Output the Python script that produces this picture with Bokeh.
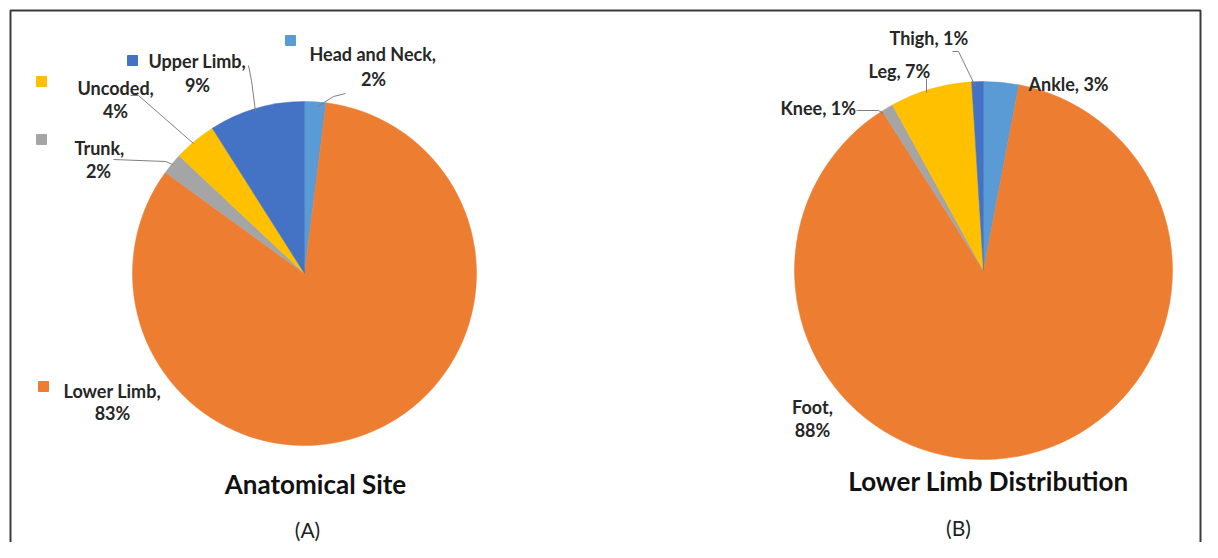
import numpy as np
from bokeh.plotting import figure
from bokeh.models import Range1d
from bokeh.core.properties import value
from bokeh.embed import file_html
from bokeh.resources import INLINE

# ---- data ----
site_labels = ["Head and Neck", "Lower Limb", "Trunk", "Uncoded", "Upper Limb"]
site_values = [2, 83, 2, 4, 9]
site_colors = ["#5B9BD5", "#ED7D31", "#A5A5A5", "#FFC000", "#4472C4"]

limb_labels = ["Ankle", "Foot", "Knee", "Leg", "Thigh"]
limb_values = [3, 88, 1, 7, 1]
limb_colors = ["#5B9BD5", "#ED7D31", "#A5A5A5", "#FFC000", "#4472C4"]

W, H = 1202, 542


def X(x):
    return x


def Y(y):
    return H - y


p = figure(width=W, height=H, output_backend="svg", toolbar_location=None,
           x_range=Range1d(0, W), y_range=Range1d(0, H), min_border=0)
p.axis.visible = False
p.grid.visible = False
p.outline_line_color = None
p.background_fill_color = "white"

FONT = value("Lato")
LABEL_C = "#262626"
LBL_SIZE = "18px"


def pie(cx, cy, r, values, colors):
    v = np.array(values, dtype=float)
    frac = v / v.sum()
    cum = np.concatenate([[0], np.cumsum(frac)])
    start = np.pi / 2 - cum[1:] * 2 * np.pi
    end = np.pi / 2 - cum[:-1] * 2 * np.pi
    p.wedge(x=[X(cx)] * len(v), y=[Y(cy)] * len(v), radius=r, radius_units="screen",
            start_angle=start, end_angle=end, fill_color=colors, line_color=colors,
            line_width=0.5)


pie(304, 273, 172, site_values, site_colors)
pie(983, 270, 189, limb_values, limb_colors)

# ---- frame (left, top, right) ----
p.line([X(10), X(10), X(1200), X(1200)], [Y(560), Y(10), Y(10), Y(560)],
       line_color="#3a3a3a", line_width=2)

# ---- leader lines ----
leaders = [
    ([345, 333, 317], [93, 96, 106]),          # head and neck
    ([248, 251, 255], [65, 80, 111]),          # upper limb
    ([130, 138, 193], [95, 95, 143]),          # uncoded
    ([113, 165, 172], [159, 161, 164]),        # trunk
    ([952, 958, 975], [51, 51, 86]),           # thigh
    ([926, 926], [78, 92]),                    # leg
    ([856, 878, 883], [110, 110, 113]),        # knee
]
p.multi_line([[X(a) for a in xs] for xs, ys in leaders],
             [[Y(b) for b in ys] for xs, ys in leaders],
             line_color="#7f7f7f", line_width=1)

# ---- legend-style markers (chart A) ----
mk_x = [290, 43, 41, 41, 132]
mk_y = [40, 386, 139, 81, 60]
p.scatter([X(a) for a in mk_x], [Y(b) for b in mk_y], marker="square", size=10,
          fill_color=site_colors, line_color=site_colors)

# ---- labels chart A ----
first_lines = [f"{n}," for n in site_labels]
pct = [f"{v}%" for v in site_values]
l1_x = [309, 63, 74, 77, 148]
l1_y = [53, 390, 147, 87, 60]
l2_x = [373, 112, 98, 115, 197]
l2_y = [78, 412, 170, 110, 84]
p.text([X(a) for a in l1_x], [Y(b) for b in l1_y], text=first_lines,
       text_font=FONT, text_font_style="bold", text_font_size=LBL_SIZE,
       text_color=LABEL_C, text_align="left", text_baseline="middle")
p.text([X(a) for a in l2_x], [Y(b) for b in l2_y], text=pct,
       text_font=FONT, text_font_style="bold", text_font_size=LBL_SIZE,
       text_color=LABEL_C, text_align="center", text_baseline="middle")

# ---- labels chart B ----
one_line = [f"{n}, {v}%" for n, v in zip(limb_labels, limb_values)]
b_x = [1028, None, 780, 868, 889]
b_y = [83, None, 107, 70, 37]
idx = [0, 2, 3, 4]
p.text([X(b_x[i]) for i in idx], [Y(b_y[i]) for i in idx], text=[one_line[i] for i in idx],
       text_font=FONT, text_font_style="bold", text_font_size=LBL_SIZE,
       text_color=LABEL_C, text_align="left", text_baseline="middle")
p.text([X(812), X(812)], [Y(406), Y(429)], text=[f"{limb_labels[1]},", f"{limb_values[1]}%"],
       text_font=FONT, text_font_style="bold", text_font_size=LBL_SIZE,
       text_color=LABEL_C, text_align="center", text_baseline="middle")

# ---- titles ----
p.text([X(315), X(988)], [Y(483), Y(480)], text=["Anatomical Site", "Lower Limb Distribution"],
       text_font=FONT, text_font_style="bold", text_font_size="26px",
       text_color="#111111", text_align="center", text_baseline="middle")
p.text([X(307), X(958)], [Y(529), Y(527)], text=["(A)", "(B)"],
       text_font=FONT, text_font_size="21px",
       text_color="#222222", text_align="center", text_baseline="middle")

open("out.html", "w").write(file_html(p, INLINE))
